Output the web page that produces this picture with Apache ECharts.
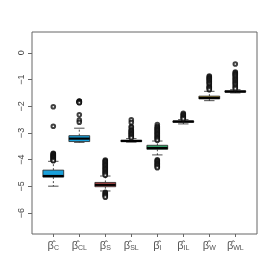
<!DOCTYPE html>
<html><head><meta charset="utf-8">
<script src="https://cdn.jsdelivr.net/npm/echarts@6/dist/echarts.min.js"></script>
<style>html,body{margin:0;padding:0;background:#fff}#c{width:274px;height:274px}</style>
</head><body><div id="c"></div>
<script>
// categories (subscripts of beta-hat)
const categories = ['C','CL','S','SL','I','IL','W','WL'];
// box stats: [lower whisker, Q1, median, Q3, upper whisker]
const boxStats = [
  [-4.99, -4.65, -4.61, -4.39, -4.06],
  [-3.35, -3.32, -3.21, -3.10, -2.82],
  [-5.17, -5.01, -4.94, -4.85, -4.61],
  [-3.34, -3.32, -3.30, -3.27, -3.21],
  [-3.82, -3.61, -3.56, -3.46, -3.30],
  [-2.66, -2.60, -2.57, -2.55, -2.50],
  [-1.79, -1.72, -1.69, -1.62, -1.44],
  [-1.50, -1.47, -1.45, -1.42, -1.38]
];
const boxColors = ['#1AA0DA','#1AA0DA','#CF5555','#555555','#3DB879','#555555','#B89B30','#555555'];
// outliers per category
const outC  = [-2.02,-2.75,-3.76,-3.78,-3.80,-3.82,-3.84,-3.86,-3.88,-3.90,-3.92,-3.94,-3.96,-3.98,-4.00,-4.02,-4.04];
const outCL = [-1.80,-1.81,-1.82,-1.83,-1.84,-1.85,-1.86,-1.87,-2.32,-2.52,-2.60];
const outS  = [-4.01,-4.04,-4.07,-4.10,-4.13,-4.16,-4.19,-4.22,-4.25,-4.28,-4.31,-4.34,-4.37,-4.40,-4.43,-4.46,-4.49,-4.52,-4.55,-4.58,
               -5.22,-5.25,-5.28,-5.31,-5.34,-5.37,-5.40];
const outSL = [-2.51,-2.61,-2.76,-2.80,-2.88,-2.91,-2.94,-2.97,-3.00,-3.03,-3.06,-3.09,-3.12,-3.15,-3.18];
const outI  = [-2.68,-2.76,-2.79,-2.82,-2.85,-2.88,-2.91,-2.94,-2.97,-3.00,-3.03,-3.06,-3.09,-3.12,-3.15,-3.18,-3.21,-3.24,-3.27,
               -4.00,-4.03,-4.06,-4.09,-4.12,-4.15,-4.18,-4.21,-4.24,-4.27,-4.30];
const outIL = [-2.26,-2.30,-2.33,-2.36,-2.39,-2.42,-2.45,-2.47];
const outW  = [-0.87,-0.90,-0.93,-0.96,-0.99,-1.02,-1.05,-1.08,-1.12,-1.15,-1.20,-1.26,-1.29,-1.31,-1.34,-1.38];
const outWL = [-0.42,-0.72,-0.75,-0.78,-0.81,-0.84,-0.88,-0.92,-0.96,-1.00,-1.04,-1.08,-1.12,-1.16,-1.20,-1.25,-1.30,-1.34];
const outliers = [outC,outCL,outS,outSL,outI,outIL,outW,outWL];
// y tick labels
const yTicks = [-6,-5,-4,-3,-2,-1,0];

const boxData = boxStats.map((s,i)=>[i].concat(s));
const outData = [];
outliers.forEach((arr,i)=>arr.forEach(v=>outData.push([i,v])));

const chart = echarts.init(document.getElementById('c'), null, {renderer:'canvas'});
const YMIN = -6.78, YMAX = 0.78;
chart.setOption({
  animation:false,
  grid:[
    {left:32, right:17, top:32, bottom:40, show:true, borderColor:'#666', borderWidth:1, backgroundColor:'transparent'},
    {left:40.3, right:25.7, top:32, bottom:40}
  ],
  xAxis:[
    {gridIndex:0, type:'value', min:0, max:1, show:false},
    {gridIndex:1, type:'category', data:categories, boundaryGap:true, position:'bottom',
     axisLine:{show:false, onZero:false},
     axisTick:{show:true, alignWithLabel:true, length:3, lineStyle:{color:'#666'}},
     axisLabel:{margin:5, color:'#555', interval:0,
       formatter:(v)=>'{b|β\u0302}{s|'+v+'}',
       rich:{b:{fontSize:11, fontFamily:'Liberation Sans', color:'#555'},
             s:{fontSize:7, fontFamily:'Liberation Sans', color:'#555', padding:[6,0,0,0]}}}}
  ],
  yAxis:[
    {gridIndex:0, type:'value', min:YMIN, max:YMAX,
     splitLine:{show:false}, axisLine:{show:false},
     axisTick:{show:true, length:4, customValues:yTicks, lineStyle:{color:'#666'}},
     axisLabel:{customValues:yTicks, rotate:90, margin:6, fontSize:9, fontFamily:'Liberation Sans', color:'#444',
       formatter:(v)=> v===0?'0':'\u2212'+Math.abs(v)}},
    {gridIndex:1, type:'value', min:YMIN, max:YMAX, show:false, splitLine:{show:false}}
  ],
  series:[
    {type:'custom', xAxisIndex:1, yAxisIndex:1, data:boxData,
     renderItem:function(params, api){
       const i = api.value(0);
       const lo=api.value(1), q1=api.value(2), md=api.value(3), q3=api.value(4), hi=api.value(5);
       const w = api.size([1,0])[0]*0.8;
       const cx = api.coord([i, md])[0];
       const y = v=>api.coord([i,v])[1];
       const col = boxColors[i];
       const ln = (x1,y1,x2,y2,st)=>({type:'line', shape:{x1,y1,x2,y2}, style:st});
       const thin = {stroke:'#222', lineWidth:0.8};
       const dash = {stroke:'#222', lineWidth:0.8, lineDash:[2,2]};
       return {type:'group', children:[
         ln(cx,y(q3),cx,y(hi),dash),
         ln(cx,y(q1),cx,y(lo),dash),
         ln(cx-w/4,y(hi),cx+w/4,y(hi),thin),
         ln(cx-w/4,y(lo),cx+w/4,y(lo),thin),
         {type:'rect', shape:{x:cx-w/2, y:y(q3), width:w, height:y(q1)-y(q3)}, style:{fill:col, stroke:'#222', lineWidth:0.8}},
         ln(cx-w/2,y(md),cx+w/2,y(md),{stroke:'#000', lineWidth:2.2})
       ]};
     }, z:2},
    {type:'scatter', xAxisIndex:1, yAxisIndex:1, data:outData, symbol:'emptyCircle', symbolSize:3.6,
     itemStyle:{color:'#111', borderColor:'#111', borderWidth:0.7}, z:3}
  ]
});
</script></body></html>
